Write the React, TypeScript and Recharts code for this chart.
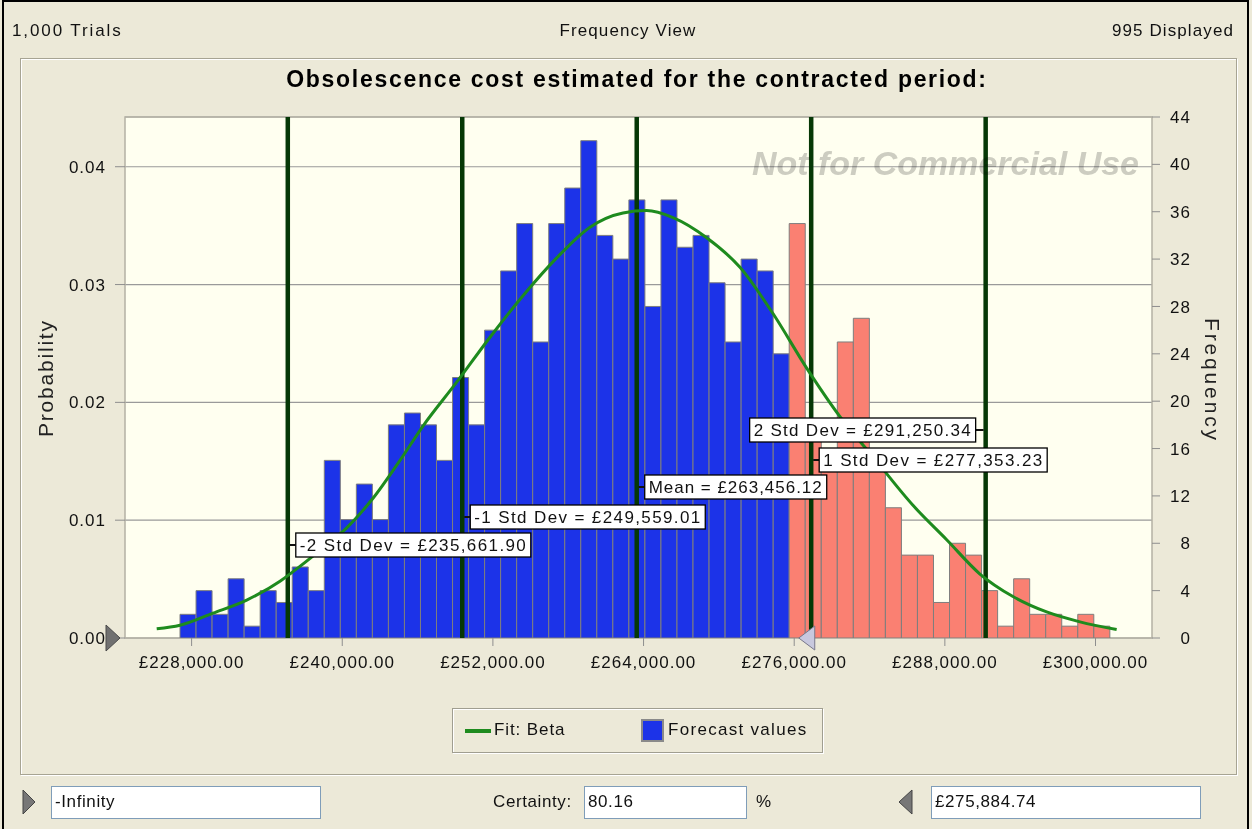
import React from 'react';
import {
  ComposedChart, Bar, Line, XAxis, YAxis, CartesianGrid, ReferenceLine,
  ReferenceArea, ReferenceDot, Cell,
} from 'recharts';

// ---------- data ----------
const TRIALS_LABEL = '1,000 Trials';
const VIEW_LABEL = 'Frequency View';
const DISPLAYED = 995;
const TITLE = 'Obsolescence cost estimated for the contracted period:';

const BIN_START = 227076;
const BIN_WIDTH = 1277;
const FREQUENCIES = [
  2, 4, 2, 5, 1, 4, 3, 6, 4, 15,
  10, 13, 10, 18, 19, 18, 15, 22, 18, 26,
  31, 35, 25, 35, 38, 42, 34, 32, 37, 28,
  37, 33, 34, 30, 25, 32, 31, 24, 35, 17,
  16, 25, 27, 16, 11, 7, 7, 3, 8, 7,
  4, 1, 5, 2, 2, 1, 2, 1,
];

const FIT_X = [
  225220, 227076, 229704, 232389, 235041, 236077, 238227, 240354, 242449, 244600,
  246432, 249116, 251768, 254397, 257081, 259733, 262362, 264249, 266344, 269028,
  271681, 274309, 276993, 279646, 282274, 285460, 288145, 290797, 293425, 296109,
  298762, 301685,
];
const FIT_P = [
  0.00078, 0.00108, 0.00211, 0.00322, 0.00482, 0.00563, 0.00744, 0.00935, 0.01186, 0.01508,
  0.01799, 0.02171, 0.02553, 0.02905, 0.03226, 0.03487, 0.03608, 0.03628, 0.03568, 0.03397,
  0.03146, 0.02754, 0.02291, 0.01879, 0.01538, 0.01126, 0.00834, 0.00543, 0.00352, 0.00221,
  0.00137, 0.00072,
];

const STD_NAMES = ['-2 Std Dev', '-1 Std Dev', 'Mean', '1 Std Dev', '2 Std Dev'];
const STD_VALUES = [235661.90, 249559.01, 263456.12, 277353.23, 291250.34];

const X_TICKS = [228000, 240000, 252000, 264000, 276000, 288000, 300000];
const PROB_TICKS = [0, 0.01, 0.02, 0.03, 0.04];
const FREQ_TICKS = [0, 4, 8, 12, 16, 20, 24, 28, 32, 36, 40, 44];
const FREQ_MAX = 44;
const X_DOMAIN: [number, number] = [222695, 304500];

const CUTOFF = 275884.74;
const CERTAINTY = '80.16';
const LOWER_BOUND = '-Infinity';

// ---------- styles ----------
const FONT = "'Liberation Sans', Arial, Helvetica, sans-serif";
const BLUE = '#1C33E8';
const SALMON = '#FA8072';
const FIT_GREEN = '#1E8B1E';
const STD_GREEN = '#063806';
const BG = '#ECE9D8';

const SD_LAYOUT = [
  { dy: 416, side: 'right', w: 235 },
  { dy: 388, side: 'right', w: 235 },
  { dy: 358, side: 'right', w: 182 },
  { dy: 331, side: 'right', w: 228 },
  { dy: 301, side: 'left', w: 226 },
];

const fmtMoney = (v: number) => {
  const s = v.toFixed(2);
  const [i, d] = s.split('.');
  return '£' + i.replace(/\B(?=(\d{3})+(?!\d))/g, ',') + '.' + d;
};

const histData = FREQUENCIES.map((f, i) => ({ x: BIN_START + (i + 0.5) * BIN_WIDTH, freq: f }));
const fitData = FIT_X.map((x, i) => ({ x, p: FIT_P[i] }));
const PROB_MAX = FREQ_MAX / DISPLAYED;

const XTick = (props: any) => {
  const { x, y, payload } = props;
  return (
    <text x={x} y={y} dy="0.71em" textAnchor="middle" fontSize={17} fontFamily={FONT}
      letterSpacing={1} fill="#111">{fmtMoney(payload.value)}</text>
  );
};
const ProbTick = (props: any) => {
  const { x, y, payload } = props;
  return (
    <text x={x} y={y} dy="0.36em" textAnchor="end" fontSize={17} fontFamily={FONT}
      letterSpacing={1} fill="#111">{payload.value.toFixed(2)}</text>
  );
};
const FreqTick = (props: any) => {
  const { x, y, payload } = props;
  return (
    <text x={x + 31} y={y} dy="0.36em" textAnchor="end" fontSize={17} fontFamily={FONT}
      letterSpacing={1} fill="#111">{payload.value}</text>
  );
};

const ProbTitle = (props: any) => {
  const vb = props.viewBox || { x: 20, y: 117, width: 105, height: 521 };
  const cx = vb.x + 33;
  const cy = vb.y + vb.height / 2 + 1.5;
  return (
    <text x={cx} y={cy} transform={`rotate(-90 ${cx} ${cy})`} textAnchor="middle"
      fontSize={21} fontFamily={FONT} fill="#222" textLength={116} lengthAdjust="spacing">Probability</text>
  );
};
const FreqTitle = (props: any) => {
  const vb = props.viewBox || { x: 1152, y: 117, width: 80, height: 521 };
  const cx = vb.x + 53;
  const cy = vb.y + vb.height / 2 + 1.5;
  return (
    <text x={cx} y={cy} transform={`rotate(90 ${cx} ${cy})`} textAnchor="middle"
      fontSize={21} fontFamily={FONT} fill="#222" textLength={122} lengthAdjust="spacing">Frequency</text>
  );
};

const SdLabel = (props: any) => {
  const { viewBox, text, dy, side, w } = props;
  if (!viewBox) return null;
  const lx = viewBox.x;
  const top = viewBox.y;
  const h = 24;
  const bx = side === 'right' ? lx + 8 : lx - 10 - w;
  const by = top + dy;
  const cy = by + h / 2;
  const c1 = side === 'right' ? lx + 2 : bx + w;
  const c2 = side === 'right' ? bx : lx - 2;
  return (
    <g>
      <line x1={c1} y1={cy} x2={c2} y2={cy} stroke="#111" strokeWidth={2} />
      <rect x={bx} y={by} width={w} height={h} fill="#fff" stroke="#000" strokeWidth={1.3} />
      <text x={bx + 4} y={by + 18} fontSize={17} fontFamily={FONT} fill="#111"
        textLength={w - 9} lengthAdjust="spacing">{text}</text>
    </g>
  );
};

const LeftMarker = (props: any) => {
  const { cx, cy } = props;
  return (
    <polygon points={`${cx - 19},${cy - 13} ${cx - 5},${cy} ${cx - 19},${cy + 13}`}
      fill="#707070" stroke="#4a4a4a" strokeWidth={1} />
  );
};
const CutoffMarker = (props: any) => {
  const { cx, cy } = props;
  return (
    <polygon points={`${cx + 6},${cy} ${cx + 22},${cy - 12} ${cx + 22},${cy + 12}`}
      fill="#C8C8DE" stroke="#77778A" strokeWidth={1} />
  );
};

const txt = (extra: React.CSSProperties): React.CSSProperties => ({
  position: 'absolute', fontFamily: FONT, fontSize: 17, color: '#111',
  whiteSpace: 'nowrap', lineHeight: '20px', ...extra,
});

const inputBox = (left: number, width: number): React.CSSProperties => ({
  position: 'absolute', left, top: 786, width, height: 33, boxSizing: 'border-box',
  background: '#fff', border: '1px solid #7F9DB9',
});

export default function App() {
  return (
    <div style={{ position: 'absolute', left: 0, top: 0, width: 1252, height: 829, background: BG, overflow: 'hidden' }}>
      {/* outer window frame */}
      <div style={{ position: 'absolute', left: 2, top: 0, width: 1247, height: 829, boxSizing: 'border-box',
        borderLeft: '2px solid #000', borderTop: '2px solid #000', borderRight: '2px solid #000' }} />

      {/* header */}
      <div style={txt({ left: 12, top: 21, letterSpacing: 1.9 })}>{TRIALS_LABEL}</div>
      <div style={txt({ left: 428, width: 400, top: 21, textAlign: 'center', letterSpacing: 1.1 })}>{VIEW_LABEL}</div>
      <div style={txt({ right: 18, top: 21, letterSpacing: 1.1 })}>{`${DISPLAYED} Displayed`}</div>

      {/* chart panel */}
      <div style={{ position: 'absolute', left: 20, top: 58, width: 1217, height: 717, boxSizing: 'border-box',
        border: '1px solid #A7A493', boxShadow: 'inset 1px 1px 0 #fff, 1px 1px 0 #fff' }} />

      <div style={txt({ left: 137, width: 1000, top: 66, textAlign: 'center', fontWeight: 'bold',
        fontSize: 23, lineHeight: '27px', letterSpacing: 1.7, color: '#000' })}>{TITLE}</div>

      <div style={{ position: 'absolute', left: 0, top: 0 }}>
        <ComposedChart width={1252} height={700} data={histData}
          margin={{ top: 117, right: 20, bottom: 22, left: 20 }}>
          <CartesianGrid yAxisId="prob" vertical={false} stroke="#9A9A9A" strokeWidth={1.2} fill="#FFFFF0" />
          <XAxis dataKey="x" type="number" domain={X_DOMAIN} allowDataOverflow ticks={X_TICKS}
            interval={0} tickSize={8} tickMargin={10} height={40} axisLine={false}
            tickLine={{ stroke: '#8E8E8E' }} tick={<XTick />} />
          <XAxis xAxisId="fit" dataKey="x" type="number" domain={X_DOMAIN} allowDataOverflow hide />
          <YAxis yAxisId="prob" orientation="left" domain={[0, PROB_MAX]} allowDataOverflow
            ticks={PROB_TICKS} interval={0} width={105} tickSize={10} tickMargin={9} axisLine={false}
            tickLine={{ stroke: '#8E8E8E' }} tick={<ProbTick />} label={{ content: ProbTitle }} />
          <YAxis yAxisId="freq" orientation="right" domain={[0, FREQ_MAX]} allowDataOverflow
            ticks={FREQ_TICKS} interval={0} width={80} tickSize={8} tickMargin={0} axisLine={false}
            tickLine={{ stroke: '#8E8E8E' }} tick={<FreqTick />} label={{ content: FreqTitle }} />

          <Bar yAxisId="freq" dataKey="freq" barSize={16.03} stroke="#7E7E7E" strokeWidth={1}
            isAnimationActive={false} name="Forecast values">
            {histData.map((d, i) => (
              <Cell key={i} fill={d.x < CUTOFF ? BLUE : SALMON} />
            ))}
          </Bar>

          {STD_VALUES.map((v, i) => (
            <ReferenceLine key={`l${i}`} yAxisId="prob" x={v} stroke={STD_GREEN} strokeWidth={4.5} />
          ))}

          <Line xAxisId="fit" yAxisId="prob" data={fitData} dataKey="p" type="monotone" stroke={FIT_GREEN}
            strokeWidth={3} dot={false} isAnimationActive={false} name="Fit: Beta" />

          <ReferenceArea yAxisId="prob" x1={X_DOMAIN[0]} x2={X_DOMAIN[1]} y1={0} y2={PROB_MAX}
            fill="none" stroke="#B4B1A4" strokeWidth={1.5} ifOverflow="visible" />

          <ReferenceDot yAxisId="prob" x={X_DOMAIN[0]} y={0} r={0} ifOverflow="visible" shape={LeftMarker} />
          <ReferenceDot yAxisId="prob" x={CUTOFF} y={0} r={0} ifOverflow="visible" shape={CutoffMarker} />

          {STD_VALUES.map((v, i) => (
            <ReferenceLine key={`t${i}`} yAxisId="prob" x={v} stroke="#000" strokeOpacity={0}
              label={{
                content: (p: any) => (
                  <SdLabel viewBox={p.viewBox} text={`${STD_NAMES[i]} = ${fmtMoney(v)}`}
                    dy={SD_LAYOUT[i].dy} side={SD_LAYOUT[i].side} w={SD_LAYOUT[i].w} />
                ),
              }} />
          ))}
        </ComposedChart>
      </div>

      {/* watermark */}
      <svg width={1252} height={829} style={{ position: 'absolute', left: 0, top: 0, pointerEvents: 'none', mixBlendMode: 'multiply' }}>
        <text x={752} y={175} fontSize={34} fontWeight="bold" fontStyle="italic" fontFamily={FONT}
          fill="#CDCDCD" textLength={387} lengthAdjust="spacingAndGlyphs">Not for Commercial Use</text>
      </svg>

      {/* legend */}
      <div style={{ position: 'absolute', left: 452, top: 708, width: 371, height: 45, boxSizing: 'border-box',
        border: '1px solid #A09E90', boxShadow: 'inset 1px 1px 0 #fff, 1px 1px 0 #fff' }}>
        <div style={{ position: 'absolute', left: 12, top: 20, width: 26, height: 3.5, background: FIT_GREEN }} />
        <div style={txt({ left: 41, top: 11, letterSpacing: 0.9 })}>Fit: Beta</div>
        <div style={{ position: 'absolute', left: 188, top: 10, width: 23, height: 23, boxSizing: 'border-box',
          background: BLUE, border: '2px solid #8A8A8A' }} />
        <div style={txt({ left: 215, top: 11, letterSpacing: 1.3 })}>Forecast values</div>
      </div>

      {/* bottom controls */}
      <svg width={1252} height={829} style={{ position: 'absolute', left: 0, top: 0, pointerEvents: 'none' }}>
        <polygon points="23,790 35,802 23,814" fill="#777" stroke="#444" strokeWidth={1} />
        <polygon points="912,790 899,802 912,814" fill="#777" stroke="#444" strokeWidth={1} />
      </svg>
      <div style={inputBox(51, 270)}>
        <div style={txt({ left: 3, top: 5, letterSpacing: 0.6 })}>{LOWER_BOUND}</div>
      </div>
      <div style={txt({ left: 493, top: 792, letterSpacing: 0.6 })}>Certainty:</div>
      <div style={inputBox(584, 163)}>
        <div style={txt({ left: 3, top: 5, letterSpacing: 0.6 })}>{CERTAINTY}</div>
      </div>
      <div style={txt({ left: 756, top: 792 })}>%</div>
      <div style={inputBox(931, 270)}>
        <div style={txt({ left: 3, top: 5, letterSpacing: 0.6 })}>{fmtMoney(CUTOFF)}</div>
      </div>
    </div>
  );
}
